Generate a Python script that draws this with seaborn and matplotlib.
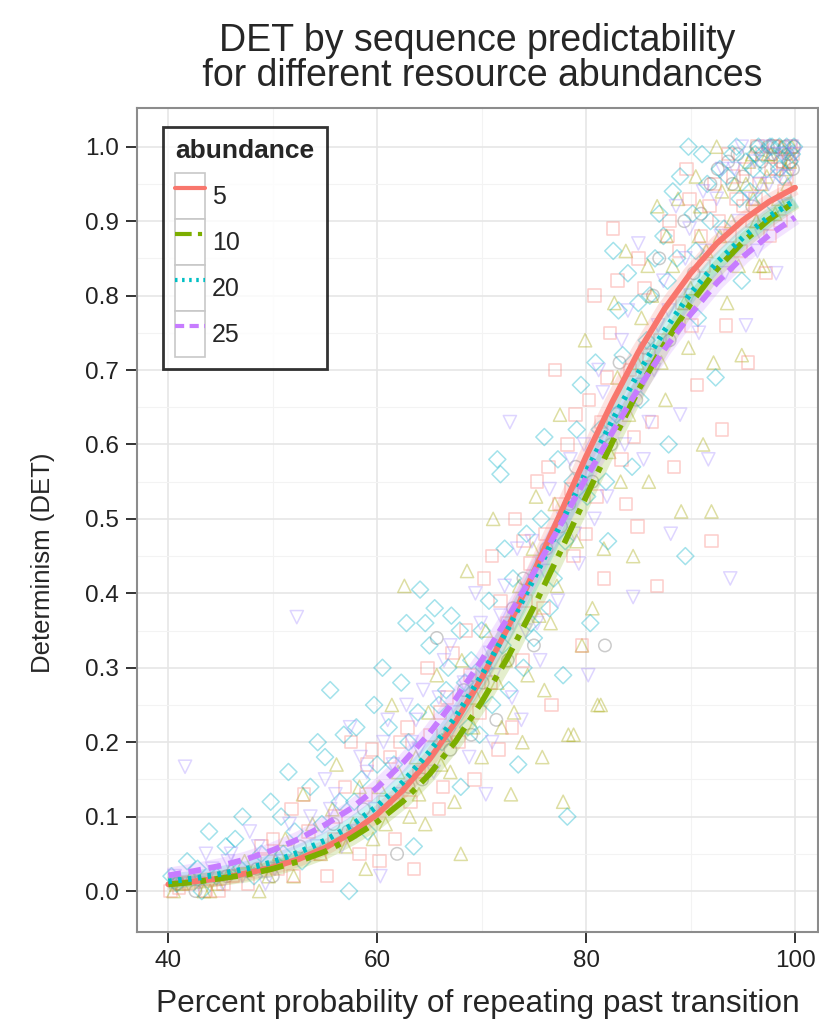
import numpy as np
import pandas as pd
import seaborn as sns
import matplotlib.pyplot as plt
from matplotlib.lines import Line2D
from matplotlib.patches import Rectangle
from matplotlib.legend_handler import HandlerLine2D

# ---------------------------------------------
# fitted curves (x step 2.5)
# ---------------------------------------------
fit_x = [40, 42.5, 45, 47.5, 50, 52.5, 55, 57.5, 60, 62.5, 65, 67.5, 70,
         72.5, 75, 77.5, 80, 82.5, 85, 87.5, 90, 92.5, 95, 97.5, 100]
fit_5 = [0.009, 0.013, 0.017, 0.024, 0.032, 0.043, 0.058, 0.078, 0.103, 0.136,
         0.177, 0.227, 0.286, 0.354, 0.429, 0.506, 0.584, 0.657, 0.724, 0.782,
         0.830, 0.870, 0.901, 0.926, 0.945]
fit_10 = [0.009, 0.012, 0.017, 0.022, 0.030, 0.040, 0.053, 0.071, 0.093, 0.121,
          0.157, 0.201, 0.254, 0.314, 0.382, 0.455, 0.530, 0.603, 0.673, 0.735,
          0.789, 0.835, 0.872, 0.902, 0.926]
fit_20 = [0.013, 0.017, 0.023, 0.030, 0.039, 0.052, 0.068, 0.088, 0.114, 0.147,
          0.187, 0.234, 0.290, 0.352, 0.420, 0.491, 0.563, 0.632, 0.696, 0.753,
          0.803, 0.844, 0.878, 0.906, 0.928]
fit_25 = [0.021, 0.027, 0.034, 0.043, 0.055, 0.070, 0.089, 0.111, 0.139, 0.173,
          0.212, 0.258, 0.310, 0.367, 0.428, 0.491, 0.555, 0.616, 0.675, 0.728,
          0.775, 0.817, 0.852, 0.881, 0.905]

abundance = ["5", "10", "20", "25"]
line_colors = ["#F8766D", "#7CAE00", "#00BFC4", "#C77CFF"]

# ---------------------------------------------
# scatter points (approximate)
# ---------------------------------------------
sq_x = [41.0, 43.5, 46.2, 48.9, 50.5, 51.8, 53.4, 55.2, 56.9, 58.3, 59.5, 60.8, 61.7,
        62.9, 64.0, 64.8, 65.9, 66.7, 67.8, 68.5, 69.3, 70.2, 70.9, 71.6, 72.4, 73.2,
        73.9, 74.6, 75.3, 75.9, 76.7, 77.4, 78.2, 78.8, 79.6, 80.3, 81.0, 81.7, 82.3,
        82.6, 83.4, 84.2, 84.9, 85.6, 86.3, 87.1, 87.8, 88.4, 89.2, 89.9, 90.6, 91.3,
        92.0, 92.7, 93.4, 94.1, 94.8, 95.5, 96.2, 96.9, 97.6, 98.3, 99.0, 99.6, 97.2,
        93.0, 86.8, 80.8, 77.0, 71.0, 52.0, 57.5, 63.5, 98.0, 99.2,
        40.2, 42.0, 44.8, 47.6, 50.0, 53.0, 54.5, 56.0, 58.9, 60.2, 61.2, 63.2, 65.1,
        66.3, 67.2, 69.8, 72.9, 74.2, 76.1, 78.6, 80.0, 81.4, 83.0, 84.6, 86.0, 88.9,
        90.1, 91.8, 93.8, 95.2, 96.6, 97.9, 98.9, 99.8, 95.9, 94.4,
        88.0, 89.6, 91.0, 92.3, 93.6, 95.0, 96.4, 97.7, 98.6, 99.4, 85.0, 83.8, 82.0,
        79.0, 76.4, 74.0, 71.8, 68.9, 66.0, 62.2, 59.0, 55.9, 49.5, 45.3]
sq_y = [0.005, 0.0, 0.02, 0.06, 0.03, 0.11, 0.08, 0.02, 0.14, 0.05, 0.19, 0.12, 0.07,
        0.22, 0.16, 0.30, 0.11, 0.26, 0.20, 0.35, 0.15, 0.42, 0.28, 0.19, 0.36, 0.50,
        0.31, 0.44, 0.55, 0.38, 0.25, 0.52, 0.60, 0.45, 0.33, 0.66, 0.53, 0.42, 0.75,
        0.89, 0.58, 0.70, 0.49, 0.81, 0.63, 0.74, 0.88, 0.57, 0.79, 0.93, 0.68, 0.84,
        0.47, 0.90, 0.76, 0.96, 0.86, 0.71, 0.93, 0.99, 0.88, 0.97, 0.94, 1.0, 0.83,
        0.62, 0.41, 0.80, 0.70, 0.45, 0.02, 0.20, 0.03, 1.0, 0.96,
        0.0, 0.01, 0.0, 0.01, 0.07, 0.13, 0.05, 0.10, 0.13, 0.04, 0.18, 0.12, 0.21,
        0.14, 0.32, 0.24, 0.22, 0.39, 0.48, 0.54, 0.48, 0.63, 0.82, 0.61, 0.72, 0.86,
        0.76, 0.92, 0.88, 0.97, 0.95, 1.0, 0.98, 0.99, 0.90, 0.93,
        0.90, 0.97, 0.88, 0.95, 0.99, 0.92, 1.0, 0.97, 0.90, 0.98, 0.85, 0.52, 0.69,
        0.64, 0.57, 0.47, 0.39, 0.29, 0.24, 0.20, 0.17, 0.07, 0.04, 0.01]

tri_x = [40.5, 42.2, 44.7, 47.3, 49.6, 51.2, 52.9, 54.6, 56.1, 57.7, 58.9, 60.2, 61.4,
         62.6, 63.7, 64.6, 65.7, 66.6, 67.4, 68.6, 69.5, 70.4, 71.1, 71.9, 72.8, 73.6,
         74.4, 75.2, 75.8, 76.6, 77.5, 78.3, 79.1, 79.9, 80.6, 81.4, 82.2, 83.0, 83.8,
         84.5, 85.3, 86.0, 86.8, 87.6, 88.3, 89.1, 89.8, 90.5, 91.2, 92.0, 92.8, 93.5,
         94.2, 94.9, 95.6, 96.3, 97.0, 97.7, 98.4, 99.1, 99.7, 90.8, 68.0, 77.8, 96.8,
         41.3, 43.4, 46.0, 48.7, 50.6, 53.8, 55.7, 58.3, 59.6, 62.0, 63.1, 64.9, 66.1,
         68.1, 70.0, 72.3, 73.1, 74.9, 76.0, 77.0, 78.8, 80.2, 81.1, 82.7, 84.1, 85.9,
         87.2, 88.8, 90.0, 91.5, 93.0, 94.6, 95.9, 97.3, 98.7, 99.5, 96.6, 92.2,
         87.7, 89.4, 90.9, 92.5, 93.9, 95.3, 96.0, 97.4, 98.1, 99.3, 86.3, 84.9, 83.3,
         81.7, 79.6, 77.2, 75.5, 73.9, 71.5, 69.2, 67.0, 64.0, 60.8, 57.0, 52.0, 44.0]
tri_y = [0.0, 0.02, 0.01, 0.04, 0.02, 0.07, 0.13, 0.05, 0.17, 0.09, 0.03, 0.14, 0.25,
         0.41, 0.18, 0.09, 0.29, 0.21, 0.12, 0.43, 0.26, 0.35, 0.50, 0.22, 0.13, 0.41,
         0.29, 0.53, 0.18, 0.36, 0.64, 0.21, 0.47, 0.74, 0.38, 0.25, 0.59, 0.69, 0.86,
         0.45, 0.77, 0.55, 0.92, 0.66, 0.84, 0.51, 0.73, 0.96, 0.60, 0.51, 0.88, 0.79,
         0.95, 0.72, 0.98, 0.90, 0.84, 0.99, 0.93, 0.97, 1.0, 0.88, 0.05, 0.12, 0.95,
         0.01, 0.0, 0.03, 0.0, 0.05, 0.09, 0.11, 0.14, 0.07, 0.16, 0.10, 0.24, 0.17,
         0.31, 0.18, 0.31, 0.24, 0.46, 0.27, 0.52, 0.21, 0.58, 0.25, 0.79, 0.64, 0.84,
         0.71, 0.93, 0.81, 0.86, 0.94, 0.84, 0.99, 0.96, 1.0, 0.98, 0.84, 0.71,
         0.88, 0.79, 0.92, 1.0, 0.90, 0.95, 0.93, 0.99, 0.91, 0.95, 0.80, 0.71, 0.55,
         0.46, 0.33, 0.41, 0.37, 0.20, 0.28, 0.22, 0.16, 0.13, 0.09, 0.06, 0.02, 0.0]

dia_x = [40.3, 41.8, 43.9, 45.5, 47.1, 48.2, 49.8, 51.5, 52.8, 54.3, 55.5, 56.4, 57.3,
         58.0, 59.1, 60.5, 61.6, 62.8, 63.5, 64.1, 65.0, 66.2, 67.1, 68.0, 69.0, 69.8,
         70.7, 71.5, 71.8, 72.6, 73.5, 74.3, 75.0, 76.0, 76.9, 77.8, 78.7, 79.5, 80.4,
         81.3, 82.1, 82.6, 83.5, 84.4, 85.2, 86.1, 87.0, 87.9, 88.7, 89.5, 89.8, 90.7,
         91.6, 92.4, 93.2, 94.0, 94.9, 95.7, 96.5, 97.3, 98.1, 98.9, 99.5, 99.9, 96.0,
         64.6, 66.8, 72.0, 78.2, 98.5,
         40.8, 42.8, 44.6, 46.4, 48.9, 50.8, 52.1, 53.6, 55.0, 56.8, 58.5, 59.7, 61.1,
         62.3, 63.9, 65.5, 66.6, 67.9, 68.7, 70.2, 71.0, 73.0, 74.7, 75.7, 77.3, 79.1,
         80.9, 82.9, 84.0, 85.8, 87.4, 88.3, 90.2, 91.1, 92.8, 94.4, 95.3, 96.9, 97.8,
         98.5, 99.2, 97.0,
         87.8, 89.0, 90.5, 91.9, 93.5, 94.7, 96.2, 97.6, 98.8, 99.7, 86.6, 85.0, 83.1,
         81.9, 80.1, 78.0, 76.5, 74.0, 72.2, 70.0, 68.4, 65.9, 63.0, 60.0, 57.8, 54.7,
         51.0, 46.9, 43.2]
dia_y = [0.02, 0.04, 0.08, 0.06, 0.10, 0.02, 0.12, 0.16, 0.04, 0.20, 0.27, 0.12, 0.0,
         0.22, 0.08, 0.30, 0.17, 0.36, 0.06, 0.405, 0.33, 0.20, 0.37, 0.14, 0.31, 0.21,
         0.39, 0.58, 0.56, 0.27, 0.17, 0.48, 0.34, 0.61, 0.42, 0.29, 0.55, 0.68, 0.36,
         0.62, 0.47, 0.86, 0.72, 0.57, 0.66, 0.80, 0.91, 0.60, 0.85, 0.45, 1.0, 0.77,
         0.95, 0.69, 0.89, 0.99, 0.82, 0.94, 1.0, 0.97, 0.92, 0.99, 0.98, 1.0, 0.97,
         0.36, 0.30, 0.33, 0.10, 1.0,
         0.01, 0.03, 0.02, 0.07, 0.05, 0.10, 0.08, 0.14, 0.18, 0.21, 0.15, 0.25, 0.22,
         0.28, 0.24, 0.38, 0.27, 0.35, 0.22, 0.30, 0.25, 0.42, 0.36, 0.50, 0.58, 0.62,
         0.71, 0.64, 0.83, 0.74, 0.88, 0.94, 0.91, 0.99, 0.97, 1.0, 0.98, 0.99, 1.0,
         0.97, 1.0, 0.93,
         0.82, 0.96, 0.86, 0.90, 0.96, 0.93, 0.99, 1.0, 0.96, 0.99, 0.85, 0.79, 0.78,
         0.55, 0.53, 0.47, 0.38, 0.30, 0.46, 0.35, 0.28, 0.25, 0.20, 0.17, 0.12, 0.09,
         0.05, 0.03, 0.0]

tdn_x = [41.6, 42.9, 44.2, 46.0, 47.8, 49.3, 50.9, 52.3, 53.6, 55.0, 56.6, 58.4, 59.8,
         61.0, 62.2, 63.3, 64.4, 65.4, 66.4, 67.6, 68.8, 69.9, 71.2, 72.2, 72.7, 73.8,
         74.8, 75.6, 76.5, 77.3, 78.5, 79.3, 80.2, 81.2, 82.0, 82.8, 84.0, 84.5, 85.5,
         86.5, 87.4, 88.1, 89.0, 89.9, 90.8, 91.7, 92.5, 93.3, 93.8, 94.6, 95.3, 96.1,
         96.8, 97.5, 98.2, 98.8, 99.4, 100.0, 70.4, 60.3,
         40.6, 43.6, 45.2, 47.1, 48.6, 51.6, 54.2, 56.0, 57.4, 59.0, 60.6, 62.8, 64.0,
         65.9, 67.0, 68.3, 69.4, 70.8, 71.8, 73.4, 74.2, 76.0, 77.8, 79.8, 81.6, 83.4,
         85.0, 86.0, 87.9, 89.5, 91.2, 92.9, 94.2, 95.8, 97.1, 98.5, 99.7, 96.4,
         88.6, 90.0, 91.4, 93.0, 94.9, 96.6, 98.0, 99.1, 86.9, 85.3, 83.7, 80.8, 78.9,
         75.3, 72.9, 71.0, 66.9, 63.7, 61.5, 58.0, 55.5, 50.2, 45.7]
tdn_y = [0.167, 0.01, 0.03, 0.05, 0.08, 0.01, 0.04, 0.368, 0.10, 0.15, 0.06, 0.18, 0.11,
         0.23, 0.13, 0.20, 0.27, 0.16, 0.31, 0.24, 0.18, 0.36, 0.29, 0.41, 0.63, 0.23,
         0.47, 0.31, 0.54, 0.39, 0.58, 0.44, 0.29, 0.70, 0.53, 0.64, 0.78, 0.395, 0.58,
         0.70, 0.82, 0.48, 0.64, 0.89, 0.75, 0.58, 0.93, 0.83, 0.42, 0.90, 0.76, 0.98,
         0.88, 0.95, 0.83, 0.99, 0.96, 0.99, 0.13, 0.02,
         0.02, 0.05, 0.01, 0.02, 0.06, 0.09, 0.06, 0.13, 0.22, 0.16, 0.20, 0.25, 0.19,
         0.26, 0.33, 0.28, 0.40, 0.32, 0.37, 0.46, 0.35, 0.43, 0.50, 0.60, 0.67, 0.74,
         0.87, 0.63, 0.78, 0.85, 0.94, 0.88, 0.97, 0.93, 1.0, 0.96, 1.0, 0.86,
         0.92, 0.80, 0.86, 0.97, 1.0, 0.95, 0.99, 0.92, 0.76, 0.68, 0.60, 0.50, 0.48,
         0.36, 0.26, 0.20, 0.21, 0.23, 0.17, 0.08, 0.11, 0.03, 0.04]

cir_x = [42.6, 48.5, 55.8, 61.9, 65.7, 68.3, 71.4, 73.0, 76.2, 79.0, 81.8, 84.8, 88.0,
         90.3, 92.6, 94.5, 95.9, 97.4, 98.6, 99.3, 99.8,
         40.9, 45.6, 52.6, 58.7, 64.3, 67.0, 70.1, 74.0, 77.6, 80.6, 83.2, 86.4, 89.4,
         91.9, 93.6, 96.3, 97.9, 99.0, 99.6, 95.0,
         87.0, 91.0, 94.0, 96.8, 98.3, 99.9, 85.6, 82.4, 78.4, 75.0, 72.5, 69.0, 63.0,
         57.2, 50.0]
cir_y = [0.0, 0.03, 0.09, 0.05, 0.34, 0.27, 0.23, 0.38, 0.46, 0.57, 0.33, 0.66, 0.74,
         0.83, 0.97, 0.99, 0.92, 1.0, 0.98, 0.99, 0.97,
         0.01, 0.02, 0.06, 0.11, 0.15, 0.19, 0.28, 0.42, 0.49, 0.55, 0.71, 0.80, 0.90,
         0.95, 0.98, 1.0, 0.99, 1.0, 0.98, 0.96,
         0.85, 0.91, 0.95, 0.98, 1.0, 1.0, 0.73, 0.60, 0.52, 0.33, 0.31, 0.21, 0.14,
         0.08, 0.02]


class BoxedKey(HandlerLine2D):
    # ggplot-like legend key: grey box around the line sample
    def create_artists(self, legend, orig_handle, xdescent, ydescent, width, height,
                       fontsize, trans):
        arts = super().create_artists(legend, orig_handle, xdescent, ydescent, width,
                                      height, fontsize, trans)
        box = Rectangle((-xdescent, -ydescent), width, height, fill=True, fc="white",
                        ec="#C8C8C8", lw=1.2, transform=trans)
        return [box] + list(arts)


# ---------------------------------------------
# style
# ---------------------------------------------
sns.set_style("whitegrid")
plt.rcParams["font.family"] = ["Liberation Sans", "DejaVu Sans"]

fig = plt.figure(figsize=(8.2, 10.28), dpi=100)
ax = fig.add_axes([137 / 820, 1 - 932 / 1028, 681 / 820, 824 / 1028])

groups = [
    (cir_x, cir_y, "o", "#707070", 80),
    (tri_x, tri_y, "^", "#A3A500", 90),
    (sq_x, sq_y, "s", "#F8766D", 80),
    (dia_x, dia_y, "D", "#00B0C8", 75),
    (tdn_x, tdn_y, "v", "#A58CFF", 90),
]
for gx, gy, m, col, s in groups:
    sns.scatterplot(x=gx, y=gy, marker=m, s=s, facecolor="none", edgecolor=col,
                    linewidth=1.1, alpha=0.36, ax=ax, zorder=2)

fits = [fit_5, fit_10, fit_20, fit_25]
styles = ["-", (0, (4, 1.5, 1, 1.5)), (0, (0.6, 1.1)), (0, (2.2, 1.3))]
handles = []
for lab, fy, col, ls in zip(abundance, fits, line_colors, styles):
    # confidence ribbon look
    ax.plot(fit_x, fy, color=col, lw=11, alpha=0.2, solid_capstyle="butt", zorder=3)
for lab, fy, col, ls in zip(abundance, fits, line_colors, styles):
    sns.lineplot(x=fit_x, y=fy, color=col, lw=4.2, linestyle=ls, ax=ax, zorder=4)
    handles.append(Line2D([0], [0], color=col, lw=3, linestyle=ls))

# ---------------------------------------------
# axes, grid, labels
# ---------------------------------------------
ax.set_xlim(37, 102.2)
ax.set_ylim(-0.055, 1.052)
ax.set_xticks([40, 60, 80, 100])
ax.set_xticks([50, 70, 90], minor=True)
ax.set_yticks([0.0, 0.1, 0.2, 0.3, 0.4, 0.5, 0.6, 0.7, 0.8, 0.9, 1.0])
ax.set_yticks([0.05, 0.15, 0.25, 0.35, 0.45, 0.55, 0.65, 0.75, 0.85, 0.95], minor=True)
ax.set_yticklabels(["0.0", "0.1", "0.2", "0.3", "0.4", "0.5", "0.6", "0.7", "0.8", "0.9", "1.0"])
ax.grid(which="major", color="#E6E6E6", lw=1.2)
ax.grid(which="minor", color="#F3F3F3", lw=0.8)
ax.tick_params(axis="both", which="major", direction="out", length=8, width=1.4,
               color="#333333", labelsize=17.5, labelcolor="#222222", pad=5,
               left=True, bottom=True)
ax.tick_params(which="minor", length=0)
for sp in ax.spines.values():
    sp.set_color("#8C8C8C")
    sp.set_linewidth(1.5)

ax.set_xlabel("Percent probability of repeating past transition", fontsize=22.8, labelpad=12)
ax.set_ylabel("Determinism (DET)", fontsize=18.5)
ax.yaxis.set_label_coords(-0.12, 0.448)
ax.set_title("DET by sequence predictability\n for different resource abundances",
             fontsize=27, pad=16, linespacing=0.95)

leg = ax.legend(handles, abundance, title="abundance", loc="upper left",
                bbox_to_anchor=(0.038, 0.977), borderaxespad=0, fontsize=18,
                title_fontsize=19, frameon=True, fancybox=False, edgecolor="black",
                handlelength=1.2, handleheight=2.45, labelspacing=0.0, borderpad=0.5,
                handletextpad=0.25, handler_map={Line2D: BoxedKey()})
leg.get_frame().set_linewidth(2)
leg.get_title().set_fontweight("bold")
leg._legend_box.align = "left"
leg._legend_box.sep = 7

fig.savefig("out.png", dpi=100)
